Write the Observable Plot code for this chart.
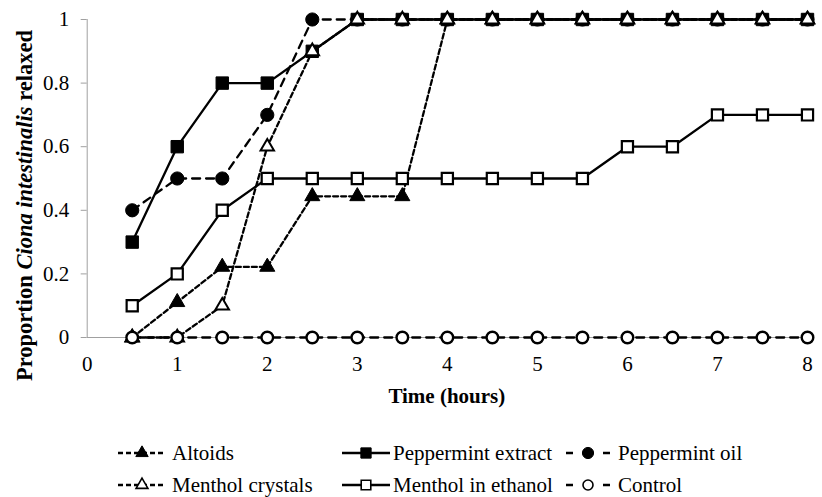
<!DOCTYPE html>
<html>
<head>
<meta charset="utf-8">
<script src="https://cdn.jsdelivr.net/npm/d3@7"></script>
<script src="https://cdn.jsdelivr.net/npm/@observablehq/plot@0.6"></script>
<style>
  html, body { margin: 0; padding: 0; background: #fff; }
  svg { display: block; }
  #chart svg, #chart svg text { font-family: "Liberation Serif", "Times New Roman", serif !important; }
</style>
</head>
<body>
<div id="chart"></div>
<script>
// ---- data ----
const times = [0.5, 1, 1.5, 2, 2.5, 3, 3.5, 4, 4.5, 5, 5.5, 6, 6.5, 7, 7.5, 8];
const altoids           = [0, 0.111, 0.222, 0.222, 0.444, 0.444, 0.444, 1, 1, 1, 1, 1, 1, 1, 1, 1];
const peppermintExtract = [0.3, 0.6, 0.8, 0.8, 0.9, 1, 1, 1, 1, 1, 1, 1, 1, 1, 1, 1];
const peppermintOil     = [0.4, 0.5, 0.5, 0.7, 1, 1, 1, 1, 1, 1, 1, 1, 1, 1, 1, 1];
const mentholCrystals   = [0, 0, 0.1, 0.6, 0.9, 1, 1, 1, 1, 1, 1, 1, 1, 1, 1, 1];
const mentholEthanol    = [0.1, 0.2, 0.4, 0.5, 0.5, 0.5, 0.5, 0.5, 0.5, 0.5, 0.5, 0.6, 0.6, 0.7, 0.7, 0.7];
const control           = [0, 0, 0, 0, 0, 0, 0, 0, 0, 0, 0, 0, 0, 0, 0, 0];
const seriesNames = ["Altoids", "Peppermint extract", "Peppermint oil", "Menthol crystals", "Menthol in ethanol", "Control"];
const seriesValues = [altoids, peppermintExtract, peppermintOil, mentholCrystals, mentholEthanol, control];
const xTicks = [0, 1, 2, 3, 4, 5, 6, 7, 8];
const yTicks = [0, 0.2, 0.4, 0.6, 0.8, 1];
const yTickLabels = ["0", "0.2", "0.4", "0.6", "0.8", "1"];

// ---- styles (separate from data) ----
const FONT = "'Liberation Serif', 'Times New Roman', serif";
const SHORT = "5,3", LONG = "8,6";
const styles = [
  {dash: SHORT, symbol: "triangle", r: 5.6, fill: "black", sw: 1},
  {dash: null,  symbol: "square",   r: 7,   fill: "black", sw: 1},
  {dash: LONG,  symbol: "circle",   r: 6.6, fill: "black", sw: 1},
  {dash: SHORT, symbol: "triangle", r: 5,   fill: "white", sw: 2},
  {dash: null,  symbol: "square",   r: 6.3, fill: "white", sw: 2.2},
  {dash: LONG,  symbol: "circle",   r: 5.8, fill: "white", sw: 2.4}
];

const W = 822, H = 420;
const marks = [
  Plot.ruleX([0], {stroke: "#a0a0a0", y1: 0, y2: 1}),
  Plot.ruleY([0], {stroke: "#a0a0a0"}),
  Plot.axisY({ticks: yTicks, tickSize: 6, tickPadding: 12, stroke: "#a0a0a0",
              tickFormat: (d, i) => yTickLabels[i], label: null}),
  Plot.axisX({ticks: xTicks, tickSize: 0, tickPadding: 19, tickFormat: d => String(d), label: null})
];
seriesNames.forEach((name, k) => {
  const data = times.map((t, i) => ({t, v: seriesValues[k][i], name}));
  const s = styles[k];
  const lineOpts = {x: "t", y: "v", stroke: "black", strokeWidth: 2.3};
  if (s.dash) lineOpts.strokeDasharray = s.dash;
  marks.push(Plot.line(data, lineOpts));
  marks.push(Plot.dot(data, {x: "t", y: "v", symbol: s.symbol, r: s.r, fill: s.fill, stroke: "black", strokeWidth: s.sw}));
});

const chart = Plot.plot({
  width: W, height: H,
  marginLeft: 86.7, marginRight: 15, marginTop: 19, marginBottom: H - 337,
  style: `font-family: ${FONT}; font-size: 21px; color: black; background: white;`,
  x: {domain: [0, 8], axis: null},
  y: {domain: [0, 1], axis: null},
  marks
});
document.getElementById("chart").appendChild(chart);

// axis titles
const svg = d3.select(chart);
svg.selectAll("text").attr("font-family", FONT).attr("font-size", 21);
const xs = chart.scale("x");
svg.append("text")
  .attr("x", xs.apply(4)).attr("y", 403)
  .attr("text-anchor", "middle")
  .attr("font-family", FONT)
  .attr("font-weight", "bold")
  .attr("font-size", 21)
  .attr("fill", "black")
  .text("Time (hours)");
const yl = svg.append("text")
  .attr("transform", "translate(32,205.5) rotate(-90)")
  .attr("text-anchor", "middle")
  .attr("font-family", FONT)
  .attr("font-weight", "bold")
  .attr("font-size", 22.5)
  .attr("fill", "black");
yl.append("tspan").text("Proportion ");
yl.append("tspan").attr("font-style", "italic").text("Ciona intestinalis");
yl.append("tspan").text(" relaxed");

// legend (below the plot SVG)
const leg = d3.select("#chart").append("svg")
  .attr("width", W).attr("height", 497 - H);
const legPos = [
  {x: 118, w: 48, tx: 172, y: 33},
  {x: 342, w: 48, tx: 393, y: 33},
  {x: 566, w: 44, tx: 618, y: 33},
  {x: 118, w: 48, tx: 172, y: 65},
  {x: 342, w: 48, tx: 393, y: 65},
  {x: 566, w: 44, tx: 618, y: 65}
];
const legDash = ["5,3", null, "7,30", "5,3", null, "7,30"];
const legR = [4.6, 5.8, 5.6, 4.4, 5.4, 5];
seriesNames.forEach((name, k) => {
  const p = legPos[k], s = styles[k];
  const g = leg.append("g");
  const ln = g.append("line")
    .attr("x1", p.x).attr("x2", p.x + p.w).attr("y1", p.y).attr("y2", p.y)
    .attr("stroke", "black").attr("stroke-width", 2.3);
  if (legDash[k]) ln.attr("stroke-dasharray", legDash[k]);
  const sym = {triangle: d3.symbolTriangle, square: d3.symbolSquare, circle: d3.symbolCircle}[s.symbol];
  const rr = legR[k];
  g.append("path")
    .attr("d", d3.symbol(sym, Math.PI * rr * rr)())
    .attr("transform", `translate(${p.x + p.w / 2},${p.y})`)
    .attr("fill", s.fill).attr("stroke", "black").attr("stroke-width", s.fill === "white" ? 1.6 : 1);
  g.append("text").attr("x", p.tx).attr("y", p.y).attr("dy", "0.35em")
    .attr("font-family", FONT).attr("font-size", 21)
    .attr("fill", "black").text(name);
});
</script>
</body>
</html>
